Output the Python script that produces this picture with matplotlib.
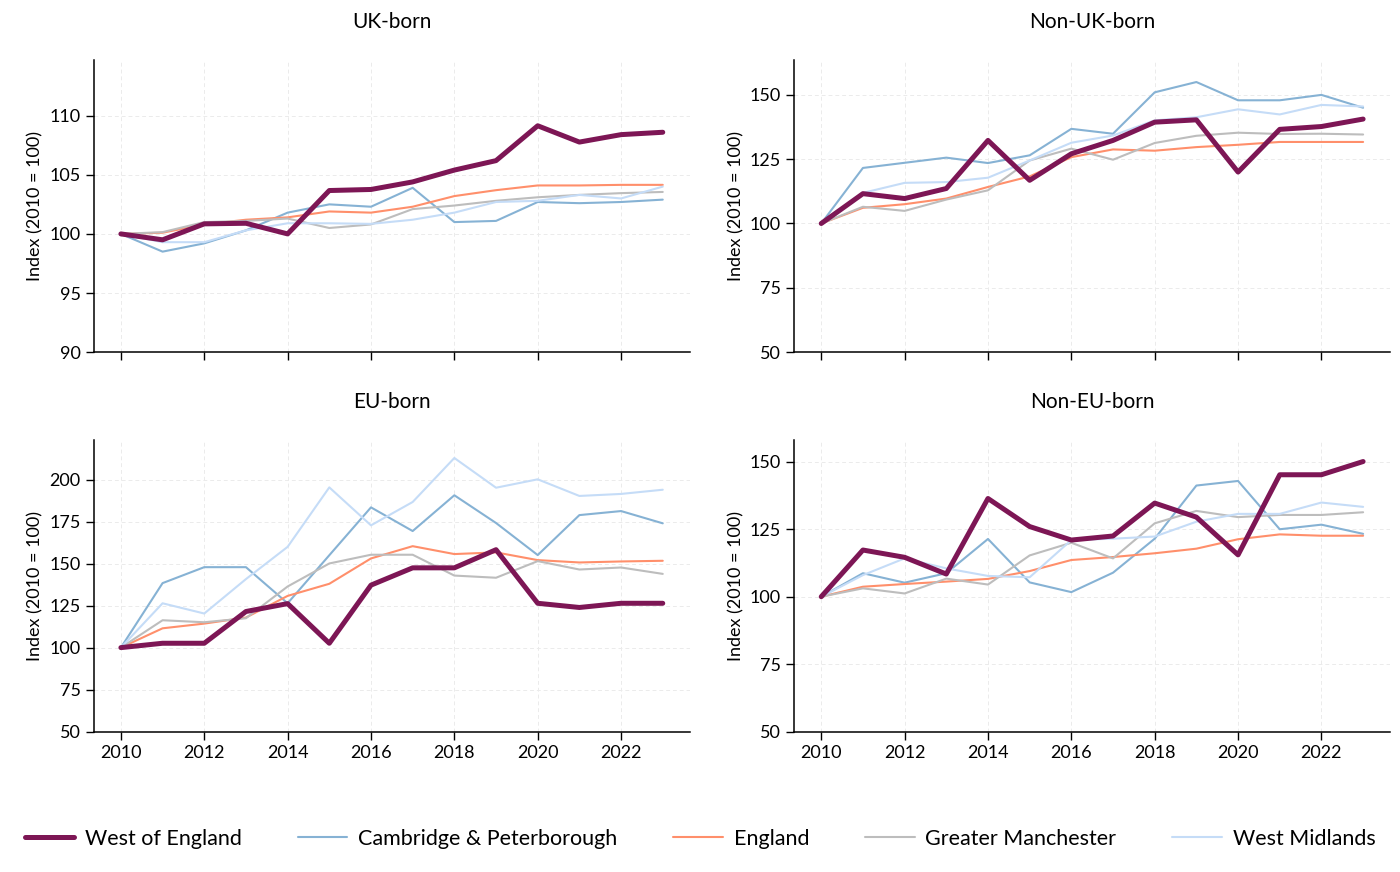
import matplotlib
matplotlib.use("Agg")
import matplotlib.pyplot as plt

plt.rcParams['font.family'] = ['Lato', 'DejaVu Sans']

years = list(range(2010, 2024))

regions = ["West of England", "Cambridge & Peterborough", "England",
           "Greater Manchester", "West Midlands"]
colors = ["#7d1655", "#86b2d4", "#ff8f6b", "#bdbdbd", "#c5dcf7"]
widths = [3.6, 1.5, 1.5, 1.5, 1.5]

# UK-born
uk_woe = [100, 99.5, 100.85, 100.9, 100.0, 103.67, 103.76, 104.4, 105.4, 106.2, 109.15, 107.77, 108.4, 108.6]
uk_cap = [100, 98.5, 99.2, 100.3, 101.8, 102.5, 102.3, 103.9, 101.0, 101.1, 102.7, 102.6, 102.7, 102.9]
uk_eng = [100, 100.1, 100.8, 101.2, 101.4, 101.9, 101.8, 102.3, 103.2, 103.7, 104.1, 104.1, 104.15, 104.15]
uk_gm = [100, 100.15, 101.0, 101.1, 101.3, 100.5, 100.8, 102.1, 102.4, 102.8, 103.1, 103.3, 103.45, 103.55]
uk_wm = [100, 99.3, 99.3, 100.3, 100.9, 100.9, 100.85, 101.2, 101.8, 102.7, 102.8, 103.3, 103.0, 104.0]

# Non-UK-born
nuk_woe = [100, 111.6, 109.7, 113.6, 132.3, 116.8, 127.1, 132.3, 139.4, 140.3, 120.0, 136.6, 137.7, 140.6]
nuk_cap = [100, 121.6, 123.6, 125.6, 123.5, 126.5, 136.8, 134.9, 151.0, 155.0, 147.9, 147.9, 150.0, 145.0]
nuk_eng = [100, 106.1, 107.5, 109.7, 114.2, 118.3, 125.8, 128.8, 128.3, 129.7, 130.6, 131.7, 131.7, 131.7]
nuk_gm = [100, 106.5, 104.9, 109.3, 112.9, 124.5, 129.1, 124.8, 131.3, 134.1, 135.3, 134.8, 134.9, 134.6]
nuk_wm = [100, 111.9, 115.8, 116.1, 117.8, 124.5, 131.4, 134.2, 140.1, 141.3, 144.4, 142.4, 146.1, 145.5]

# EU-born
eu_woe = [100, 102.6, 102.6, 121.5, 126.2, 102.6, 137.2, 147.5, 147.5, 158.3, 126.4, 123.9, 126.4, 126.4]
eu_cap = [100, 138.4, 147.9, 147.9, 126.4, 155.0, 183.5, 169.4, 190.7, 174.2, 155.1, 178.9, 181.3, 174.0]
eu_eng = [100, 111.5, 114.3, 117.9, 130.8, 138.0, 153.1, 160.4, 155.7, 156.7, 152.1, 150.7, 151.3, 151.7]
eu_gm = [100, 116.3, 115.1, 117.5, 136.4, 150.1, 155.3, 155.3, 142.9, 141.6, 151.5, 146.5, 147.7, 143.9]
eu_wm = [100, 126.4, 120.3, 140.8, 160.0, 195.4, 172.8, 186.7, 212.9, 195.2, 200.2, 190.3, 191.5, 194.0]

# Non-EU-born
neu_woe = [100, 117.3, 114.6, 108.4, 136.4, 126.0, 121.0, 122.5, 134.7, 129.5, 115.5, 145.2, 145.2, 150.1]
neu_cap = [100, 108.7, 105.2, 108.7, 121.4, 105.3, 101.7, 108.9, 121.5, 141.2, 142.9, 125.0, 126.7, 123.3]
neu_eng = [100, 103.7, 104.7, 105.6, 106.6, 109.5, 113.6, 114.7, 116.1, 117.8, 121.3, 123.1, 122.6, 122.6]
neu_gm = [100, 103.1, 101.2, 106.7, 104.5, 115.3, 120.0, 114.2, 127.2, 131.8, 129.5, 130.3, 130.3, 131.3]
neu_wm = [100, 108.0, 114.2, 110.5, 107.7, 107.2, 121.0, 121.5, 122.3, 127.8, 130.7, 130.7, 134.9, 133.3]

panels = [
    ("UK-born", [uk_woe, uk_cap, uk_eng, uk_gm, uk_wm], (90, 114.7), [90, 95, 100, 105, 110]),
    ("Non-UK-born", [nuk_woe, nuk_cap, nuk_eng, nuk_gm, nuk_wm], (50, 163.5), [50, 75, 100, 125, 150]),
    ("EU-born", [eu_woe, eu_cap, eu_eng, eu_gm, eu_wm], (50, 223.8), [50, 75, 100, 125, 150, 175, 200]),
    ("Non-EU-born", [neu_woe, neu_cap, neu_eng, neu_gm, neu_wm], (50, 158.2), [50, 75, 100, 125, 150]),
]

fig, axes = plt.subplots(2, 2, figsize=(14, 8.72), dpi=100, sharex=True)
fig.subplots_adjust(left=0.067, right=0.993, top=0.931, bottom=0.161,
                    wspace=0.175, hspace=0.30)

for ax, (title, series, ylim, yticks) in zip(axes.flat, panels):
    # draw the highlighted region last so it sits on top
    order = [1, 2, 3, 4, 0]
    for i in order:
        ax.plot(years, series[i], color=colors[i], lw=widths[i], label=regions[i],
                solid_capstyle='round', zorder=3 if i == 0 else 2)
    ax.set_title(title, fontsize=15, pad=23)
    ax.set_ylim(*ylim)
    ax.set_yticks(yticks)
    ax.set_xlim(2009.35, 2023.65)
    ax.set_xticks(range(2010, 2024, 2))
    ax.set_ylabel("Index (2010 = 100)", fontsize=13)
    ax.grid(True, color="#ebebeb", linestyle=(0, (4, 3)), linewidth=0.7)
    ax.set_axisbelow(True)
    for side in ["top", "right"]:
        ax.spines[side].set_visible(False)
    ax.spines["left"].set_linewidth(1.1)
    ax.spines["bottom"].set_linewidth(1.1)
    ax.tick_params(axis="both", labelsize=13, length=6, width=1.0, direction="out")

handles, labels = axes[0, 0].get_legend_handles_labels()
# reorder to match regions list
lookup = dict(zip(labels, handles))
fig.legend([lookup[r] for r in regions], regions, loc="center", ncol=5,
           bbox_to_anchor=(0.5, 0.038), frameon=False, fontsize=15.5,
           handlelength=2.3, columnspacing=2.6, handletextpad=0.5)

fig.savefig("out.png", dpi=100)
